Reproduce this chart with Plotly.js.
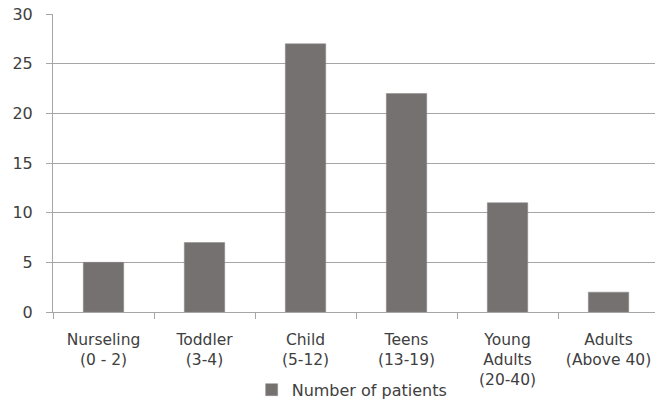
<!DOCTYPE html>
<html>
<head>
<meta charset="utf-8">
<script src="https://cdn.plot.ly/plotly-3.0.1.min.js"></script>
<style>html,body{margin:0;padding:0;background:#fff;}#chart{width:655px;height:408px;}</style>
</head>
<body>
<div id="chart"></div>
<script>
const categories = ["Nurseling<br>(0 - 2)", "Toddler<br>(3-4)", "Child<br>(5-12)", "Teens<br>(13-19)", "Young<br>Adults<br>(20-40)", "Adults<br>(Above 40)"];
const patients = [5, 7, 27, 22, 11, 2];
const seriesName = "Number of patients";

const trace = {
  type: "bar",
  x: categories,
  y: patients,
  name: seriesName,
  marker: {color: "#767171", line: {color: "#8a8787", width: 0.5}},
  showlegend: true
};

const layout = {
  width: 655, height: 408,
  margin: {l: 53, r: 0, t: 14, b: 96, pad: 0},
  paper_bgcolor: "#ffffff", plot_bgcolor: "#ffffff",
  font: {family: "DejaVu Sans, Verdana, sans-serif", size: 16, color: "#404040"},
  bargap: 0.6,
  xaxis: {
    type: "category",
    range: [-0.5, 5.46],
    showline: true, linecolor: "#a6a6a6", linewidth: 1,
    ticks: "outside", ticklen: 6, tickcolor: "#a6a6a6", tickson: "boundaries",
    showgrid: false, zeroline: false,
    tickfont: {size: 15.5, color: "#404040"},
    tickangle: 0,
    ticklabelstandoff: 13
  },
  yaxis: {
    range: [0, 30], dtick: 5,
    showline: true, linecolor: "#a6a6a6", linewidth: 1,
    ticks: "outside", ticklen: 6, tickcolor: "#a6a6a6",
    showgrid: true, gridcolor: "#a6a6a6", gridwidth: 1,
    zeroline: false,
    tickfont: {size: 16, color: "#404040"},
    ticklabelstandoff: 10
  },
  showlegend: true,
  legend: {
    orientation: "h", x: 0.33, xanchor: "left", y: -0.318, yanchor: "bottom",
    font: {size: 16, color: "#404040"}, bgcolor: "rgba(0,0,0,0)", borderwidth: 0
  }
};

Plotly.newPlot("chart", [trace], layout, {displayModeBar: false, staticPlot: true});
</script>
</body>
</html>
